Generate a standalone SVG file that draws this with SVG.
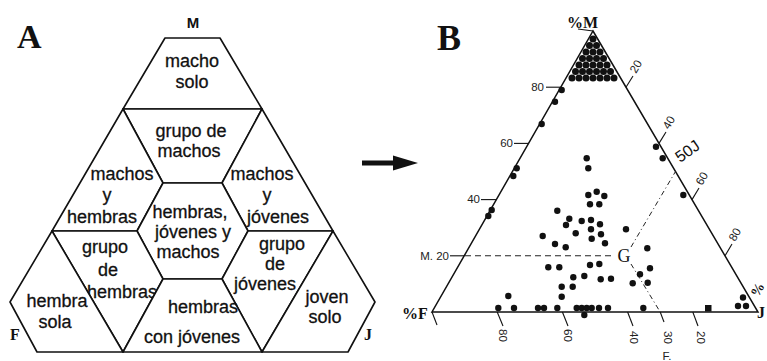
<svg xmlns="http://www.w3.org/2000/svg" width="767" height="361" viewBox="0 0 767 361">
<style>
.reg{fill:#fff;stroke:#111;stroke-width:1.6;stroke-linejoin:round}
.t{font-family:"Liberation Sans",Arial,sans-serif;font-size:18px;fill:#111;stroke:#111;stroke-width:0.3;text-anchor:middle}
.big{font-family:"Liberation Serif","Times New Roman",serif;font-weight:bold;fill:#111}
.ax{fill:none;stroke:#111;stroke-width:1.5}
.tick{stroke:#111;stroke-width:1.1}
.num{font-family:"Liberation Sans",Arial,sans-serif;font-size:11.5px;fill:#222}
.dash{stroke:#222;stroke-width:1.1;stroke-dasharray:6 4;fill:none}
.dd{stroke:#222;stroke-width:1;stroke-dasharray:5 3 1 3;fill:none}
.d{fill:#111}
</style>
<rect width="767" height="361" fill="#fff"/>

<!-- Panel A -->
<text class="big" x="17" y="48" font-size="34">A</text>
<text x="193" y="28" font-family="Liberation Sans,Arial,sans-serif" font-weight="bold" font-size="15" fill="#111" text-anchor="middle">M</text>
<text class="big" x="10" y="340" font-size="16">F</text>
<text class="big" x="364" y="340" font-size="16">J</text>

<g id="macho-solo"><polygon class="reg" points="165,38 220,38 262,109 123,109"/>
<text class="t" x="192" y="67">macho</text><text class="t" x="192" y="88">solo</text></g>
<g id="grupo-machos"><polygon class="reg" points="123,109 262,109 222,183 163,183"/>
<text class="t" x="191" y="137">grupo de</text><text class="t" x="189" y="157">machos</text></g>
<g id="machos-hembras"><polygon class="reg" points="123,109 163,183 137,231 52,231"/>
<text class="t" x="122" y="180">machos</text><text class="t" x="107" y="201">y</text><text class="t" x="102" y="223">hembras</text></g>
<g id="machos-jovenes"><polygon class="reg" points="262,109 333,231 248,231 222,183"/>
<text class="t" x="262" y="180">machos</text><text class="t" x="267" y="201">y</text><text class="t" x="278" y="223">jóvenes</text></g>
<g id="hembras-jovenes-machos"><polygon class="reg" points="163,183 222,183 248,231 222,279 163,279 137,231"/>
<text class="t" x="190" y="218">hembras,</text><text class="t" x="193" y="238">jóvenes y</text><text class="t" x="188" y="258">machos</text></g>
<g id="grupo-hembras"><polygon class="reg" points="52,231 137,231 163,279 123,352"/>
<text class="t" x="105" y="253">grupo</text><text class="t" x="108" y="276">de</text><text class="t" x="122" y="298">hembras</text></g>
<g id="grupo-jovenes"><polygon class="reg" points="333,231 248,231 222,279 262,352"/>
<text class="t" x="282" y="250">grupo</text><text class="t" x="275" y="270">de</text><text class="t" x="265" y="290">jóvenes</text></g>
<g id="hembra-sola"><polygon class="reg" points="52,231 123,352 37,352 10,302"/>
<text class="t" x="57" y="307">hembra</text><text class="t" x="55" y="328">sola</text></g>
<g id="joven-solo"><polygon class="reg" points="333,231 375,302 348,352 262,352"/>
<text class="t" x="327" y="303">joven</text><text class="t" x="325" y="323">solo</text></g>
<g id="hembras-con-jovenes"><polygon class="reg" points="163,279 222,279 262,352 123,352"/>
<text class="t" x="203" y="313">hembras</text><text class="t" x="192" y="343">con jóvenes</text></g>

<!-- Arrow -->
<g id="arrow">
<rect x="362" y="160.5" width="34" height="5" fill="#111"/>
<polygon points="393,155.5 418,163 393,170.5" fill="#111"/>
</g>

<!-- Panel B -->
<text class="big" x="437" y="50" font-size="36">B</text>
<g id="ternary">
<polygon class="ax" points="593,31 758,312 432,312"/>
<text class="big" x="567" y="28" font-size="16">%M</text>
<line class="tick" x1="578" y1="29" x2="593" y2="31"/>
<text class="big" x="402" y="319" font-size="16">%F</text>
<line class="tick" x1="432" y1="312" x2="437" y2="325"/>
<text class="big" x="757" y="318" font-size="16">J</text>
<text class="big" x="0" y="0" font-size="14" transform="translate(758,298) rotate(-60)">%</text>

<!-- M ticks (left edge) -->
<line class="tick" x1="546" y1="87.2" x2="560.8" y2="87.2"/>
<text class="num" x="544" y="91" text-anchor="end">80</text>
<line class="tick" x1="514" y1="143.4" x2="528.6" y2="143.4"/>
<text class="num" x="513" y="147" text-anchor="end">60</text>
<line class="tick" x1="481" y1="199.6" x2="496.4" y2="199.6"/>
<text class="num" x="480" y="203" text-anchor="end">40</text>
<line class="tick" x1="450" y1="255.8" x2="464.2" y2="255.8"/>
<text class="num" x="449" y="260" text-anchor="end">M. 20</text>

<!-- J ticks (right edge) -->
<line class="tick" x1="626" y1="87.2" x2="633" y2="76"/>
<text class="num" transform="translate(636,74) rotate(-60)">20</text>
<line class="tick" x1="659" y1="143.4" x2="666" y2="132"/>
<text class="num" transform="translate(669,130) rotate(-60)">40</text>
<line class="tick" x1="692" y1="199.6" x2="699" y2="188"/>
<text class="num" transform="translate(702,186) rotate(-60)">60</text>
<line class="tick" x1="725" y1="255.8" x2="732" y2="244"/>
<text class="num" transform="translate(735,242) rotate(-60)">80</text>
<text transform="translate(680,163) rotate(-35)" font-family="Liberation Sans,Arial,sans-serif" font-size="16" fill="#111">50J</text>

<!-- F ticks (base) -->
<line class="tick" x1="497.2" y1="312" x2="503" y2="326"/>
<text class="num" transform="translate(499,329) rotate(90)">80</text>
<line class="tick" x1="562.4" y1="312" x2="568" y2="326"/>
<text class="num" transform="translate(564,329) rotate(90)">60</text>
<line class="tick" x1="627.6" y1="312" x2="633" y2="326"/>
<text class="num" transform="translate(630,331) rotate(90)">40</text>
<line class="tick" x1="660.2" y1="312" x2="664" y2="322"/>
<text class="num" transform="translate(664,331) rotate(90)">30</text>
<text class="num" x="667" y="360" text-anchor="middle">F.</text>
<line class="tick" x1="692.8" y1="312" x2="698" y2="326"/>
<text class="num" transform="translate(697,331) rotate(90)">20</text>

<!-- G construction -->
<line class="dash" x1="465" y1="255.8" x2="614" y2="255.8"/>
<line class="dd" x1="631" y1="247" x2="675.5" y2="171.5"/>
<line class="dd" x1="631" y1="264" x2="660.2" y2="312"/>
<text x="624" y="262" font-family="Liberation Serif,Times New Roman,serif" font-size="18" fill="#111" text-anchor="middle">G</text>
</g>

<g id="dots" class="d">
<circle cx="593" cy="39" r="3.5"/>
<circle cx="589.5" cy="45.5" r="3.5"/><circle cx="596.5" cy="45.5" r="3.5"/>
<circle cx="586" cy="52" r="3.5"/><circle cx="593" cy="52" r="3.5"/><circle cx="600" cy="52" r="3.5"/>
<circle cx="582.5" cy="58.5" r="3.5"/><circle cx="589.5" cy="58.5" r="3.5"/><circle cx="596.5" cy="58.5" r="3.5"/><circle cx="603.5" cy="58.5" r="3.5"/>
<circle cx="579" cy="65" r="3.5"/><circle cx="586" cy="65" r="3.5"/><circle cx="593" cy="65" r="3.5"/><circle cx="600" cy="65" r="3.5"/><circle cx="607" cy="65" r="3.5"/>
<circle cx="575.5" cy="71.5" r="3.5"/><circle cx="582.5" cy="71.5" r="3.5"/><circle cx="589.5" cy="71.5" r="3.5"/><circle cx="596.5" cy="71.5" r="3.5"/><circle cx="603.5" cy="71.5" r="3.5"/><circle cx="610.5" cy="71.5" r="3.5"/>
<circle cx="572" cy="78" r="3.5"/><circle cx="579" cy="78" r="3.5"/><circle cx="586" cy="78" r="3.5"/><circle cx="593" cy="78" r="3.5"/><circle cx="600" cy="78" r="3.5"/><circle cx="607" cy="78" r="3.5"/><circle cx="614" cy="78" r="3.5"/>
<circle cx="561.7" cy="90" r="3.2"/><circle cx="555" cy="101.7" r="3.2"/><circle cx="541.7" cy="124" r="3.2"/>
<circle cx="516.7" cy="168.3" r="3.2"/><circle cx="513.3" cy="176" r="3.2"/><circle cx="491.7" cy="210" r="3.2"/><circle cx="488.3" cy="216" r="3.2"/>
<circle cx="656" cy="146.7" r="3.2"/><circle cx="662.7" cy="158.3" r="3.2"/><circle cx="683.3" cy="195" r="3.2"/>
<circle cx="586.7" cy="158.3" r="3.2"/><circle cx="588.3" cy="168.3" r="3.2"/>
<circle cx="588.3" cy="195" r="3.2"/><circle cx="596.7" cy="191.7" r="3.2"/><circle cx="604.3" cy="196" r="3.2"/>
<circle cx="590" cy="204.3" r="3.2"/><circle cx="599.3" cy="204.3" r="3.2"/>
<circle cx="557.3" cy="210.7" r="3.2"/><circle cx="569.3" cy="218.7" r="3.2"/><circle cx="581.7" cy="221" r="3.2"/>
<circle cx="591" cy="220" r="3.2"/><circle cx="600" cy="224.3" r="3.2"/><circle cx="566" cy="225" r="3.2"/>
<circle cx="575.7" cy="233.3" r="3.2"/><circle cx="591" cy="229.3" r="3.2"/><circle cx="601" cy="234.3" r="3.2"/>
<circle cx="591.7" cy="238.7" r="3.2"/><circle cx="542.7" cy="236" r="3.2"/><circle cx="605" cy="243.3" r="3.2"/>
<circle cx="555" cy="244" r="3.2"/><circle cx="565.7" cy="247.3" r="3.2"/><circle cx="626" cy="229.3" r="3.2"/>
<circle cx="647.3" cy="248.3" r="3.2"/><circle cx="548.3" cy="267.3" r="3.2"/><circle cx="559.3" cy="267.3" r="3.2"/>
<circle cx="590" cy="265" r="3.2"/><circle cx="599.3" cy="264" r="3.2"/><circle cx="650" cy="268.3" r="3.2"/>
<circle cx="573.3" cy="277.3" r="3.2"/><circle cx="584.3" cy="276" r="3.2"/><circle cx="600.7" cy="279.3" r="3.2"/>
<circle cx="611" cy="278.7" r="3.2"/><circle cx="640" cy="274.3" r="3.2"/><circle cx="647.7" cy="282.7" r="3.2"/>
<circle cx="632.7" cy="283.3" r="3.2"/><circle cx="561.7" cy="286.7" r="3.2"/><circle cx="572.7" cy="286.7" r="3.2"/>
<circle cx="561.7" cy="296.7" r="3.2"/><circle cx="508.3" cy="296" r="3.2"/>
<circle cx="498.3" cy="308" r="3.2"/><circle cx="514" cy="308" r="3.2"/><circle cx="538" cy="308" r="3.2"/><circle cx="544" cy="308" r="3.2"/>
<circle cx="557.3" cy="308" r="3.2"/><circle cx="576.7" cy="308" r="3.2"/><circle cx="581.7" cy="308" r="3.2"/><circle cx="586.7" cy="308" r="3.2"/>
<circle cx="591.7" cy="308" r="3.2"/><circle cx="599" cy="308" r="3.2"/><circle cx="608" cy="308" r="3.2"/><circle cx="643.3" cy="308" r="3.2"/>
<circle cx="584.3" cy="315" r="3.2"/>
<rect x="705" y="305" width="6.5" height="6.5"/>
<circle cx="743" cy="297.5" r="3.2"/><circle cx="738" cy="306" r="3.2"/><circle cx="746" cy="306" r="3.2"/>
</g>
</svg>
